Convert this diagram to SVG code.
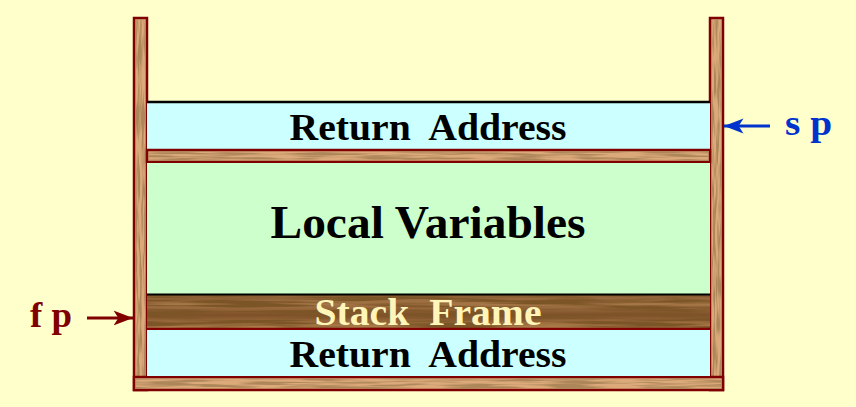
<svg xmlns="http://www.w3.org/2000/svg" width="856" height="407" viewBox="0 0 856 407">
  <style>
    .lbl { font-family: "Liberation Serif", "Times New Roman", serif; font-weight: bold; white-space: pre; }
    .wood { fill: #dcaa7a; stroke: #800000; stroke-width: 2.5; }
  </style>
  <defs>
    <filter id="grainHf" x="0" y="0" width="1" height="1">
      <feTurbulence type="fractalNoise" baseFrequency="0.02 0.45" numOctaves="2" seed="3" result="n"/>
      <feColorMatrix in="n" type="matrix" values="0 0 0 0 0.42  0 0 0 0 0.24  0 0 0 0 0.1  4 0 0 0 -1.6" result="c"/>
      <feComposite in="c" in2="SourceGraphic" operator="in"/>
    </filter>
    <filter id="grainVf" x="0" y="0" width="1" height="1">
      <feTurbulence type="fractalNoise" baseFrequency="0.45 0.03" numOctaves="2" seed="5" result="n"/>
      <feColorMatrix in="n" type="matrix" values="0 0 0 0 0.42  0 0 0 0 0.24  0 0 0 0 0.1  0 4 0 0 -1.6" result="c"/>
      <feComposite in="c" in2="SourceGraphic" operator="in"/>
    </filter>
    <filter id="grainDf" x="0" y="0" width="1" height="1">
      <feTurbulence type="fractalNoise" baseFrequency="0.01 0.28" numOctaves="3" seed="8" result="n"/>
      <feColorMatrix in="n" type="matrix" values="0 0 0 0 0.2  0 0 0 0 0.09  0 0 0 0 0.02  3.5 0 0 0 -1.3" result="c"/>
      <feComposite in="c" in2="SourceGraphic" operator="in"/>
    </filter>
    <linearGradient id="darkwood" x1="0" y1="0" x2="0" y2="1">
      <stop offset="0" stop-color="#8e6036"/>
      <stop offset="0.3" stop-color="#a57647"/>
      <stop offset="0.6" stop-color="#7e5028"/>
      <stop offset="0.8" stop-color="#9a6b3d"/>
      <stop offset="1" stop-color="#b08550"/>
    </linearGradient>
    <marker id="arrBlue" viewBox="0 0 10 10" refX="10" refY="5" markerWidth="6.5" markerHeight="6.5" markerUnits="strokeWidth" orient="auto">
      <path d="M0,1.2 L10,5 L0,8.8 L2.5,5 Z" fill="#0033cc"/>
    </marker>
    <marker id="arrRed" viewBox="0 0 10 10" refX="10" refY="5" markerWidth="6.5" markerHeight="6.5" markerUnits="strokeWidth" orient="auto">
      <path d="M0,1.2 L10,5 L0,8.8 L2.5,5 Z" fill="#800000"/>
    </marker>
  </defs>

  <rect width="856" height="407" fill="#ffffcc"/>

  <g id="container">
    <rect x="134" y="18" width="13" height="372" class="wood"/>
    <rect x="135" y="19" width="11" height="370" fill="#000" filter="url(#grainVf)"/>
    <rect x="710" y="18" width="13" height="372" class="wood"/>
    <rect x="711" y="19" width="11" height="370" fill="#000" filter="url(#grainVf)"/>
    <rect x="134" y="377" width="589" height="13" class="wood"/>
    <rect x="135" y="378" width="587" height="11" fill="#000" filter="url(#grainHf)"/>
  </g>

  <g id="return-address-top">
    <rect x="147" y="101" width="563" height="49" fill="#ccffff"/>
    <line x1="147" y1="102" x2="710" y2="102" stroke="#000" stroke-width="2.5"/>
    <text x="428" y="140" class="lbl" font-size="38" text-anchor="middle" textLength="277" lengthAdjust="spacingAndGlyphs" fill="#000" xml:space="preserve">Return  Address</text>
  </g>

  <g id="shelf">
    <rect x="147" y="150" width="563" height="12" class="wood"/>
    <rect x="148" y="151" width="561" height="10" fill="#000" filter="url(#grainHf)"/>
  </g>

  <g id="local-variables">
    <rect x="147" y="163" width="563" height="131" fill="#ccffcc"/>
    <text x="428" y="238" class="lbl" font-size="46" text-anchor="middle" textLength="315" lengthAdjust="spacingAndGlyphs" fill="#000">Local Variables</text>
  </g>

  <g id="stack-frame">
    <rect x="147" y="294" width="563" height="35" fill="url(#darkwood)"/>
    <rect x="147" y="294" width="563" height="35" fill="#000" filter="url(#grainDf)"/>
    <line x1="147" y1="294.5" x2="710" y2="294.5" stroke="#000" stroke-width="2"/>
    <line x1="147" y1="329" x2="710" y2="329" stroke="#800000" stroke-width="2.5"/>
    <text x="428" y="325" class="lbl" font-size="37" text-anchor="middle" textLength="227" lengthAdjust="spacingAndGlyphs" fill="#fff5b8" xml:space="preserve">Stack  Frame</text>
  </g>

  <g id="return-address-bottom">
    <rect x="147" y="330" width="563" height="46" fill="#ccffff"/>
    <text x="428" y="367" class="lbl" font-size="38" text-anchor="middle" textLength="277" lengthAdjust="spacingAndGlyphs" fill="#000" xml:space="preserve">Return  Address</text>
  </g>

  <g id="connectors">
    <line x1="770" y1="126" x2="724" y2="126" stroke="#0033cc" stroke-width="3" marker-end="url(#arrBlue)"/>
    <line x1="87" y1="318" x2="133" y2="318" stroke="#800000" stroke-width="3" marker-end="url(#arrRed)"/>
  </g>

  <g id="sp">
    <text x="785" y="135" class="lbl" font-size="36" textLength="47" lengthAdjust="spacingAndGlyphs" fill="#0033cc">s p</text>
  </g>
  <g id="fp">
    <text x="30" y="327" class="lbl" font-size="36" textLength="42" lengthAdjust="spacingAndGlyphs" fill="#800000">f p</text>
  </g>
</svg>
